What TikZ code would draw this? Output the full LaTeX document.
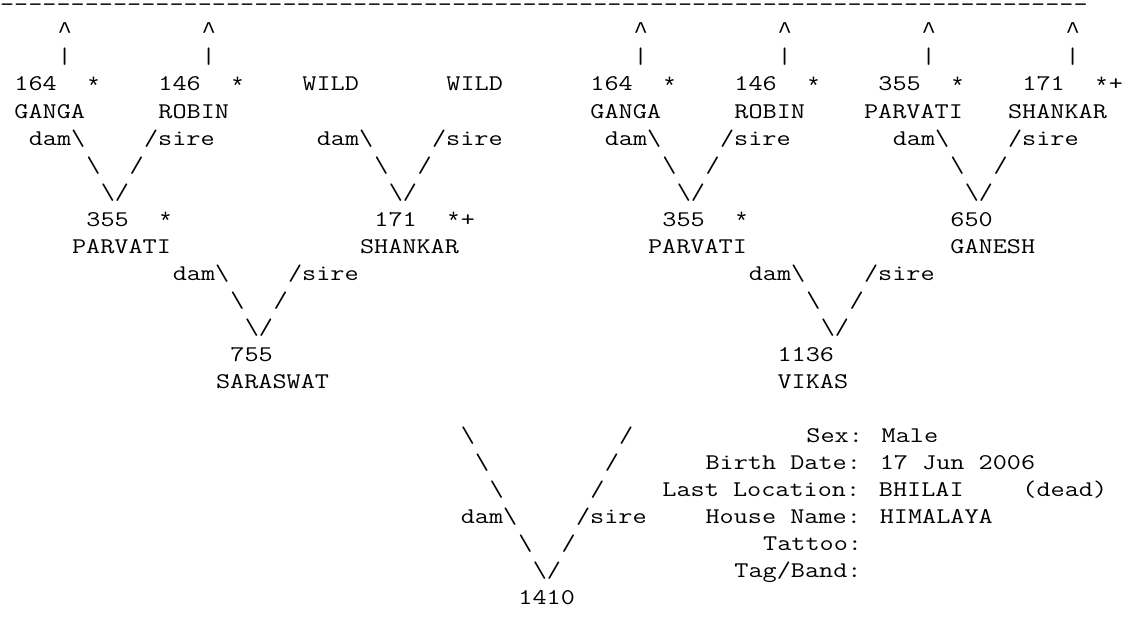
\documentclass[tikz,border=0pt]{standalone}
\usepackage{fontspec}
\newfontfamily\libmono{Liberation Mono}
\newcommand\bsl{\textbackslash}
\newcommand\crt{\textasciicircum}
\newcommand\mtxt[1]{\scalebox{1.2245}[1]{#1}}
\begin{document}
\begin{tikzpicture}[
  t/.style={anchor=base west,inner sep=0pt,outer sep=0pt,text=black,font=\fontsize{16.8pt}{20pt}\selectfont\ttfamily},
  g/.style={t,font=\libmono\fontsize{18pt}{20pt}\selectfont},
  st/.style={g,yshift=-2.4pt}]
\useasboundingbox (0,0) rectangle (846.75pt,-464.25pt);
\begin{scope}[shift={(0,-7.35pt)},x=10.8pt,y=-20.2875pt]
% row 0: rule
\node[t] (rule) at (0,0.08) {\smash{\mtxt{\foreach \i in {1,...,77}{-\kern0pt}}}};
% rows 1-2: arrows up
\foreach \c/\n in {4/a,14/b,44/c,54/d,64/e,74/f}{
  \node[g,yshift=-1.5pt] (up\n) at (\c,1) {\crt};
  \node[t] (bar\n) at (\c,2) {\mtxt{|}};
}
% row 3
\node[t] (n164a) at (1,3) {\mtxt{164}};  \node[st] (s1) at (6,3) {*};
\node[t] (n146a) at (11,3) {\mtxt{146}}; \node[st] (s2) at (16,3) {*};
\node[t] (wild1) at (21,3) {\mtxt{WILD}};
\node[t] (wild2) at (31,3) {\mtxt{WILD}};
\node[t] (n164b) at (41,3) {\mtxt{164}}; \node[st] (s3) at (46,3) {*};
\node[t] (n146b) at (51,3) {\mtxt{146}}; \node[st] (s4) at (56,3) {*};
\node[t] (n355b) at (61,3) {\mtxt{355}}; \node[st] (s5) at (66,3) {*};
\node[t] (n171b) at (71,3) {\mtxt{171}}; \node[st] (s6) at (76,3) {*};
\node[t] (p6) at (77,3) {\mtxt{+}};
% row 4
\node[t] (gangaa) at (1,4) {\mtxt{GANGA}};
\node[t] (robina) at (11,4) {\mtxt{ROBIN}};
\node[t] (gangab) at (41,4) {\mtxt{GANGA}};
\node[t] (robinb) at (51,4) {\mtxt{ROBIN}};
\node[t] (parvb) at (60,4) {\mtxt{PARVATI}};
\node[t] (shankb) at (70,4) {\mtxt{SHANKAR}};
% row 5
\foreach \c/\n in {2/a,22/b,42/c,62/d}{\node[t] (dam5\n) at (\c,5) {\mtxt{dam\bsl}};}
\foreach \c/\n in {10/a,30/b,50/c,70/d}{\node[t] (sire5\n) at (\c,5) {\mtxt{/sire}};}
% row 6-7
\foreach \c/\n in {6/a,26/b,46/c,66/d}{
  \node[t] (bk6\n) at (\c,6) {\mtxt{\bsl}};
  \node[t] (fw6\n) at (\c+3,6) {\mtxt{/}};
  \node[t] (v7\n) at (\c+1,7) {\mtxt{\bsl/}};
}
% row 8
\node[t] (n355a) at (6,8) {\mtxt{355}};  \node[st] (s7) at (11,8) {*};
\node[t] (n171a) at (26,8) {\mtxt{171}}; \node[st] (s8) at (31,8) {*};
\node[t] (p8) at (32,8) {\mtxt{+}};
\node[t] (n355c) at (46,8) {\mtxt{355}}; \node[st] (s9) at (51,8) {*};
\node[t] (n650) at (66,8) {\mtxt{650}};
% row 9
\node[t] (parva) at (5,9) {\mtxt{PARVATI}};
\node[t] (shanka) at (25,9) {\mtxt{SHANKAR}};
\node[t] (parvc) at (45,9) {\mtxt{PARVATI}};
\node[t] (ganesh) at (66,9) {\mtxt{GANESH}};
% row 10-12
\foreach \c/\n in {12/a,52/b}{
  \node[t] (dam10\n) at (\c,10) {\mtxt{dam\bsl}};
  \node[t] (sire10\n) at (\c+8,10) {\mtxt{/sire}};
  \node[t] (bk11\n) at (\c+4,11) {\mtxt{\bsl}};
  \node[t] (fw11\n) at (\c+7,11) {\mtxt{/}};
  \node[t] (v12\n) at (\c+5,12) {\mtxt{\bsl/}};
}
% row 13-14
\node[t] (n755) at (16,13) {\mtxt{755}};
\node[t] (n1136) at (54,13) {\mtxt{1136}};
\node[t] (saras) at (15,14) {\mtxt{SARASWAT}};
\node[t] (vikas) at (54,14) {\mtxt{VIKAS}};
% rows 16-22
\node[t] (bk16) at (32,16) {\mtxt{\bsl}}; \node[t] (fw16) at (43,16) {\mtxt{/}};
\node[t] (bk17) at (33,17) {\mtxt{\bsl}}; \node[t] (fw17) at (42,17) {\mtxt{/}};
\node[t] (bk18) at (34,18) {\mtxt{\bsl}}; \node[t] (fw18) at (41,18) {\mtxt{/}};
\node[t] (dam19) at (32,19) {\mtxt{dam\bsl}}; \node[t] (sire19) at (40,19) {\mtxt{/sire}};
\node[t] (bk20) at (36,20) {\mtxt{\bsl}}; \node[t] (fw20) at (39,20) {\mtxt{/}};
\node[t] (v21) at (37,21) {\mtxt{\bsl/}};
\node[t] (n1410) at (36,22) {\mtxt{1410}};
\node[t] (sex) at (56,16) {\mtxt{Sex: Male}};
\node[t] (birth) at (49,17) {\mtxt{Birth Date: 17 Jun 2006}};
\node[t] (loc) at (46,18) {\mtxt{Last Location: BHILAI}};
\node[t] (dead) at (71,18) {\mtxt{(dead)}};
\node[t] (house) at (49,19) {\mtxt{House Name: HIMALAYA}};
\node[t] (tattoo) at (53,20) {\mtxt{Tattoo:}};
\node[t] (tag) at (51,21) {\mtxt{Tag/Band:}};
\end{scope}
\end{tikzpicture}
\end{document}
